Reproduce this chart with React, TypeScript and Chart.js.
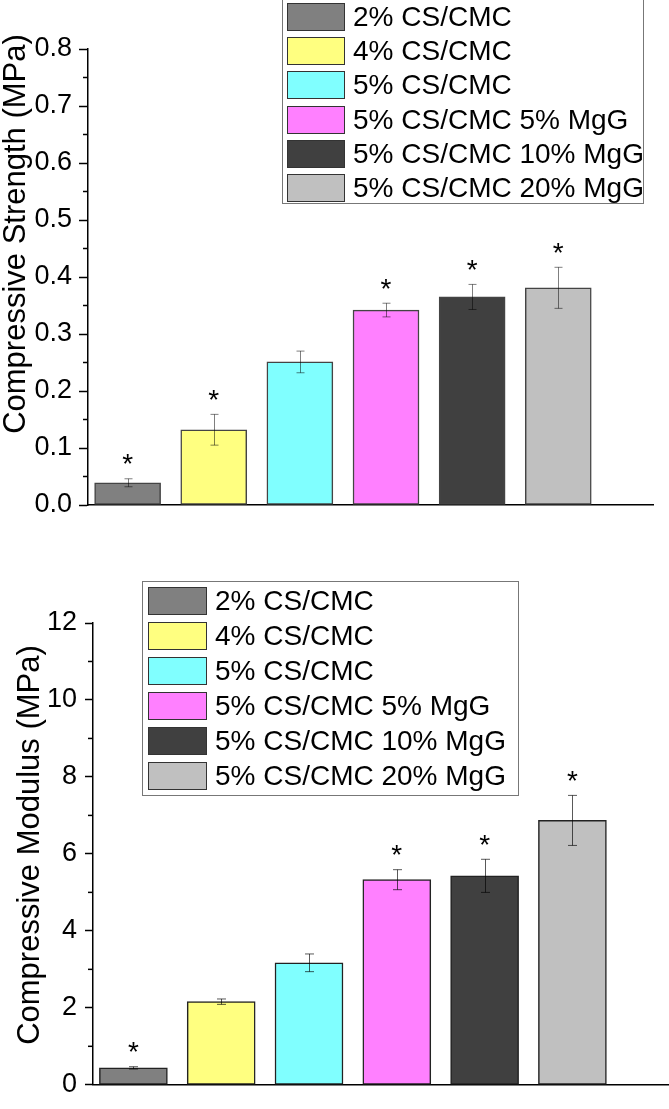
import React, { useEffect, useRef } from 'react';
import { Chart, registerables } from 'chart.js';

Chart.register(...registerables);

const FONT = '"Liberation Sans", Arial, Helvetica, sans-serif';

// ---------- data ----------
const categories = [
  '2% CS/CMC',
  '4% CS/CMC',
  '5% CS/CMC',
  '5% CS/CMC 5% MgG',
  '5% CS/CMC 10% MgG',
  '5% CS/CMC 20% MgG',
];
const barPositions = [1, 2, 3, 4, 5, 6];
const barColors = ['#808080', '#FFFF80', '#80FFFF', '#FF80FF', '#404040', '#C0C0C0'];

const strengthValues = [0.039, 0.132, 0.251, 0.342, 0.365, 0.381];
const strengthErrors = [0.007, 0.027, 0.019, 0.012, 0.022, 0.036];
const strengthMarked = [true, true, false, true, true, true];
const strengthTickLabels = ['0.0', '0.1', '0.2', '0.3', '0.4', '0.5', '0.6', '0.7', '0.8'];

const modulusValues = [0.44, 2.16, 3.17, 5.33, 5.43, 6.87];
const modulusErrors = [0.03, 0.07, 0.23, 0.26, 0.43, 0.65];
const modulusMarked = [true, false, false, true, true, true];
const modulusTickLabels = ['0', '2', '4', '6', '8', '10', '12'];

// ---------- panel layout ----------
type Panel = {
  key: string;
  top: number;
  width: number;
  height: number;
  values: number[];
  errors: number[];
  marked: boolean[];
  tickLabels: string[];
  yMax: number;
  yStep: number;
  yTitle: string;
  padding: { left: number; right: number; top: number; bottom: number };
  axisX: number;
  tickLen: number;
  tickPad: number;
  minorLen: number;
  barWidth: number;
  barBorder: string;
  errorColor: string;
  capHalf: number;
  starGap: number;
  titleX: number;
  titleY: number;
  titleSize: number;
  legend: { x: number; y: number; w: number; h: number; sx: number; sw: number; sh: number; rowTop: number; pitch: number; tx: number; size: number };
};

const strengthPanel: Panel = {
  key: 'strength',
  top: 0,
  width: 669,
  height: 545,
  values: strengthValues,
  errors: strengthErrors,
  marked: strengthMarked,
  tickLabels: strengthTickLabels,
  yMax: 0.8,
  yStep: 0.1,
  yTitle: 'Compressive Strength (MPa)',
  padding: { left: 0, right: 16, top: 49, bottom: 40 },
  axisX: 88,
  tickLen: 9,
  tickPad: 7,
  minorLen: 5,
  barWidth: 66,
  barBorder: '#444444',
  errorColor: 'rgba(0,0,0,0.5)',
  capHalf: 4,
  starGap: 21,
  titleX: 16,
  titleY: 234,
  titleSize: 31,
  legend: { x: 282, y: -3, w: 361, h: 206, sx: 287, sw: 58, sh: 28, rowTop: 3, pitch: 34.2, tx: 353, size: 28 },
};

const modulusPanel: Panel = {
  key: 'modulus',
  top: 545,
  width: 669,
  height: 564,
  values: modulusValues,
  errors: modulusErrors,
  marked: modulusMarked,
  tickLabels: modulusTickLabels,
  yMax: 12,
  yStep: 2,
  yTitle: 'Compressive Modulus (MPa)',
  padding: { left: 0, right: 0, top: 78, bottom: 18 },
  axisX: 93,
  tickLen: 8,
  tickPad: 8,
  minorLen: 5,
  barWidth: 68,
  barBorder: '#222222',
  errorColor: 'rgba(0,0,0,0.65)',
  capHalf: 4.5,
  starGap: 21,
  titleX: 30,
  titleY: 300,
  titleSize: 31,
  legend: { x: 142, y: 36, w: 376, h: 214, sx: 148, sw: 59, sh: 28, rowTop: 42, pitch: 35, tx: 215, size: 28 },
};

function decorPlugin(p: Panel) {
  return {
    id: 'decor_' + p.key,
    afterDatasetsDraw(chart: any) {
      const ctx = chart.ctx as CanvasRenderingContext2D;
      const yScale = chart.scales.y;
      const meta = chart.getDatasetMeta(0);
      const data = chart.data.datasets[0].data as { x: number; y: number }[];
      ctx.save();
      // minor ticks
      const ticks = yScale.ticks;
      ctx.strokeStyle = '#000';
      ctx.lineWidth = 1.5;
      for (let i = 0; i < ticks.length - 1; i++) {
        const mid = (ticks[i].value + ticks[i + 1].value) / 2;
        const py = yScale.getPixelForValue(mid);
        ctx.beginPath();
        ctx.moveTo(yScale.right - p.minorLen, py);
        ctx.lineTo(yScale.right, py);
        ctx.stroke();
      }
      // error bars + significance marks
      meta.data.forEach((el: any, i: number) => {
        const v = data[i].y;
        const e = p.errors[i];
        const x = Math.round(el.x) + 0.5;
        const top = yScale.getPixelForValue(v + e);
        const bot = yScale.getPixelForValue(v - e);
        ctx.strokeStyle = p.errorColor;
        ctx.lineWidth = 1;
        ctx.beginPath();
        ctx.moveTo(x, top);
        ctx.lineTo(x, bot);
        ctx.moveTo(x - p.capHalf, top);
        ctx.lineTo(x + p.capHalf, top);
        ctx.moveTo(x - p.capHalf, bot);
        ctx.lineTo(x + p.capHalf, bot);
        ctx.stroke();
        if (p.marked[i]) {
          ctx.fillStyle = '#000';
          ctx.font = `28px ${FONT}`;
          ctx.textAlign = 'center';
          ctx.textBaseline = 'alphabetic';
          ctx.fillText('*', el.x, top - p.starGap + 0.56 * 28);
        }
      });
      ctx.restore();
    },
    afterDraw(chart: any) {
      const ctx = chart.ctx as CanvasRenderingContext2D;
      ctx.save();
      // y title
      ctx.save();
      ctx.translate(p.titleX, p.titleY);
      ctx.rotate(-Math.PI / 2);
      ctx.fillStyle = '#000';
      ctx.font = `${p.titleSize}px ${FONT}`;
      ctx.textAlign = 'center';
      ctx.textBaseline = 'middle';
      ctx.fillText(p.yTitle, 0, 0);
      ctx.restore();
      // legend
      const L = p.legend;
      ctx.fillStyle = '#fff';
      ctx.fillRect(L.x, L.y, L.w, L.h);
      ctx.strokeStyle = '#777';
      ctx.lineWidth = 1;
      ctx.strokeRect(L.x + 0.5, L.y + 0.5, L.w, L.h);
      categories.forEach((label, i) => {
        const ry = Math.round(L.rowTop + i * L.pitch);
        ctx.fillStyle = barColors[i];
        ctx.fillRect(L.sx, ry, L.sw, L.sh);
        ctx.strokeStyle = '#333';
        ctx.lineWidth = 1;
        ctx.strokeRect(L.sx + 0.5, ry + 0.5, L.sw - 1, L.sh - 1);
        ctx.fillStyle = '#000';
        ctx.font = `${L.size}px ${FONT}`;
        ctx.textAlign = 'left';
        ctx.textBaseline = 'middle';
        ctx.fillText(label, L.tx, ry + L.sh / 2 + 1);
      });
      ctx.restore();
    },
  };
}

function buildConfig(p: Panel): any {
  return {
    type: 'bar',
    data: {
      datasets: [
        {
          label: p.yTitle,
          data: barPositions.map((x, i) => ({ x, y: p.values[i] })),
          backgroundColor: barColors,
          borderColor: p.barBorder,
          borderWidth: 1.5,
          borderSkipped: false,
          barThickness: p.barWidth,
          grouped: false,
        },
      ],
    },
    options: {
      animation: false,
      responsive: false,
      maintainAspectRatio: false,
      devicePixelRatio: 1,
      events: [],
      layout: { padding: p.padding },
      plugins: { legend: { display: false }, tooltip: { enabled: false }, title: { display: false } },
      scales: {
        x: {
          type: 'linear',
          min: 0.54,
          max: 7.1,
          offset: false,
          ticks: { display: false },
          grid: { display: false, offset: false },
          border: { display: true, color: '#000', width: 1.5 },
          afterFit: (s: any) => {
            s.height = 0;
          },
        },
        y: {
          type: 'linear',
          position: 'left',
          min: 0,
          max: p.yMax,
          ticks: {
            stepSize: p.yStep,
            autoSkip: false,
            color: '#000',
            font: { family: FONT, size: 27 },
            padding: p.tickPad,
            callback: (_v: any, i: number) => p.tickLabels[i],
          },
          grid: {
            display: true,
            drawOnChartArea: false,
            drawTicks: true,
            tickLength: p.tickLen,
            tickColor: '#000',
            tickWidth: 1.5,
          },
          border: { display: true, color: '#000', width: 1.5 },
          afterFit: (s: any) => {
            s.width = p.axisX;
          },
        },
      },
    },
    plugins: [decorPlugin(p)],
  };
}

function BarPanel({ cfg }: { cfg: Panel }) {
  const ref = useRef<HTMLCanvasElement>(null);
  useEffect(() => {
    if (!ref.current) return;
    const chart = new Chart(ref.current, buildConfig(cfg));
    return () => chart.destroy();
  }, [cfg]);
  return (
    <canvas
      ref={ref}
      width={cfg.width}
      height={cfg.height}
      style={{ position: 'absolute', left: 0, top: cfg.top, width: cfg.width, height: cfg.height }}
    />
  );
}

export default function App() {
  return (
    <div
      style={{
        position: 'absolute',
        left: 0,
        top: 0,
        width: 669,
        height: 1109,
        background: '#fff',
        overflow: 'hidden',
      }}
    >
      <BarPanel cfg={strengthPanel} />
      <BarPanel cfg={modulusPanel} />
    </div>
  );
}
